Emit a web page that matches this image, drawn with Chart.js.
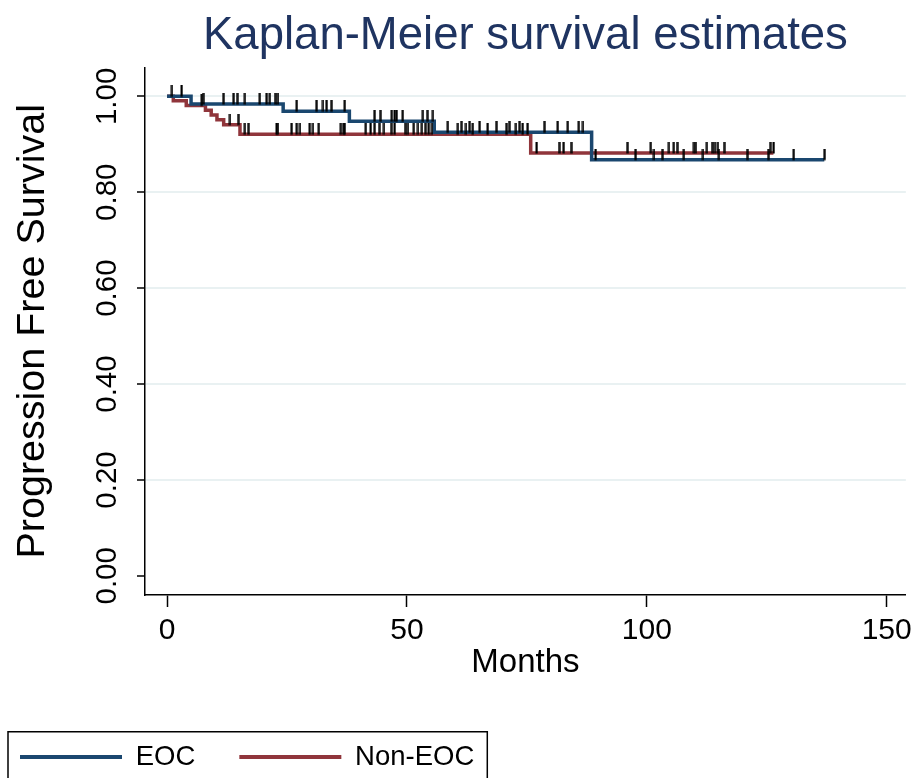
<!DOCTYPE html>
<html>
<head>
<meta charset="utf-8">
<title>Kaplan-Meier survival estimates</title>
<script src="https://cdn.jsdelivr.net/npm/chart.js@4.4.1/dist/chart.umd.min.js"></script>
<style>
  html, body { margin: 0; padding: 0; background: #fff; }
  #wrap { width: 918px; height: 778px; }
</style>
</head>
<body>
<div id="wrap"><canvas id="km"></canvas></div>
<script>
const xTicks = [0, 50, 100, 150];
const yTicks = [0, 0.2, 0.4, 0.6, 0.8, 1.0];

// EOC: instantes dos eventos e sobrevida depois de cada um
const eocTempo = [0, 5.0, 24.2, 38.0, 55.7, 88.5, 137.0];
const eocSobrev = [1.000, 0.984, 0.969, 0.948, 0.925, 0.868, 0.868];
const eocCensura = [1.0, 3.0, 7.5, 11.7, 13.8, 14.6, 16.2, 19.3, 20.7, 21.4, 22.5, 23.1,
  27.0, 31.1, 32.5, 33.2, 34.2, 37.0,
  43.2, 44.4, 46.8, 47.4, 47.8, 49.1, 53.3, 54.2, 55.4,
  58.5, 61.3, 63.0, 65.1, 68.6, 71.3, 73.4, 78.6, 81.4, 83.5, 85.8, 86.7,
  89.3, 97.6, 101.5, 103.2, 107.7, 111.7, 115.0, 120.9, 125.3, 130.6, 137.0];

// Non-EOC
const nonTempo = [0, 1.3, 4.0, 8.0, 9.2, 10.4, 11.8, 15.2, 75.8, 126.4];
const nonSobrev = [1.000, 0.991, 0.981, 0.971, 0.961, 0.951, 0.941, 0.921, 0.882, 0.882];
const nonCensura = [7.2, 13.1, 14.8,
  16.2, 16.9, 22.8, 23.1, 25.9, 27.0, 27.7, 29.7, 30.4, 31.6, 36.2, 36.7, 37.0,
  41.4, 42.4, 43.2, 44.2, 45.2, 46.7, 47.4, 49.6, 50.2, 51.4, 52.3, 53.1, 53.8, 54.5, 55.2,
  60.6, 62.3, 63.7, 66.8, 70.7, 72.7, 74.1, 75.1,
  77.0, 81.7, 82.6, 84.2, 95.9, 100.8, 104.6, 105.6, 106.3, 109.8, 110.2,
  112.5, 113.6, 114.2, 114.8, 116.1, 125.7, 126.4];

const AZUL = '#1a476f', VERMELHO = '#90353b';
const FONTE = "'Liberation Sans', Arial, sans-serif";

// nivel da curva num instante t
function nivel(tempos, sobrev, t) {
  let s = sobrev[0];
  for (let i = 0; i < tempos.length; i++) if (tempos[i] <= t) s = sobrev[i];
  return s;
}
const pontos = (tempos, sobrev) => tempos.map((t, i) => ({ x: t, y: sobrev[i] }));
const marcas = (cens, tempos, sobrev) => cens.map(t => ({ x: t, y: nivel(tempos, sobrev, t) }));

// traço de censura: sobe a partir da curva
const traco = document.createElement('canvas');
traco.width = 3; traco.height = 22;
const tc = traco.getContext('2d');
tc.fillStyle = '#000';
tc.fillRect(0.5, 0, 2.2, 11.5);

const caixaLegenda = {
  id: 'caixaLegenda',
  afterDraw(chart) {
    const lg = chart.legend;
    if (!lg || !lg.legendHitBoxes.length) return;
    const hb = lg.legendHitBoxes;
    const esq = hb[0].left - 12;
    const dir = hb[hb.length - 1].left + hb[hb.length - 1].width + 13;
    const topo = hb[0].top - 11.5;
    const ctx = chart.ctx;
    ctx.save();
    ctx.strokeStyle = '#000';
    ctx.lineWidth = 1.5;
    ctx.strokeRect(esq, topo, dir - esq, 80);
    ctx.restore();
  }
};

new Chart(document.getElementById('km'), {
  type: 'scatter',
  plugins: [caixaLegenda],
  data: {
    datasets: [
      { type: 'line', label: 'EOC', data: pontos(eocTempo, eocSobrev), stepped: true,
        borderColor: AZUL, backgroundColor: AZUL, borderWidth: 3.5, pointRadius: 0, fill: false, order: 2 },
      { type: 'line', label: 'Non-EOC', data: pontos(nonTempo, nonSobrev), stepped: true,
        borderColor: VERMELHO, backgroundColor: VERMELHO, borderWidth: 3.5, pointRadius: 0, fill: false, order: 3 },
      { label: 'cens-eoc', data: marcas(eocCensura, eocTempo, eocSobrev), pointStyle: traco, pointRadius: 1, order: 0 },
      { label: 'cens-non', data: marcas(nonCensura, nonTempo, nonSobrev), pointStyle: traco, pointRadius: 1, order: 1 }
    ]
  },
  options: {
    responsive: true, maintainAspectRatio: false, animation: false,
    layout: { padding: { left: -24, right: 10, top: 0, bottom: -2.75 } },
    plugins: {
      tooltip: { enabled: false },
      title: {
        display: true, text: 'Kaplan-Meier survival estimates', fullSize: false,
        color: '#1f3461', font: { family: FONTE, size: 45.5, weight: 'normal' },
        padding: { top: 9.5, bottom: 3.5 }
      },
      legend: {
        position: 'bottom', align: 'start',
        labels: {
          color: '#000', font: { family: FONTE, size: 27.5 },
          boxWidth: 102, boxHeight: 4, padding: 44,
          generateLabels: chart => Chart.defaults.plugins.legend.labels.generateLabels(chart)
            .filter(l => l.datasetIndex < 2)
            .map(l => Object.assign(l, { lineWidth: 0, fillStyle: l.strokeStyle }))
        }
      }
    },
    scales: {
      x: {
        type: 'linear', min: -4.6, max: 154,
        afterBuildTicks: s => { s.ticks = xTicks.map(v => ({ value: v })); },
        afterFit: s => { s.height = 104.25; },
        grid: { drawOnChartArea: false, drawTicks: true, tickLength: 12, tickColor: '#000', tickWidth: 1.5 },
        border: { display: true, color: '#000', width: 1.5 },
        ticks: { color: '#000', font: { family: FONTE, size: 30 }, padding: 6, maxRotation: 0 },
        title: { display: true, text: 'Months', color: '#000', font: { family: FONTE, size: 33 }, padding: { top: 0, bottom: 16.5 } }
      },
      y: {
        type: 'linear', min: -0.04, max: 1.06,
        afterBuildTicks: s => { s.ticks = yTicks.map(v => ({ value: v })); },
        afterFit: s => { s.width = 169; },
        grid: {
          color: c => (c.tick && c.tick.value === 0) ? 'rgba(0,0,0,0)' : '#e9f1f2',
          lineWidth: 2, tickLength: 8, tickColor: '#000', tickWidth: 1.5
        },
        border: { display: true, color: '#000', width: 1.5 },
        ticks: {
          color: '#000', font: { family: FONTE, size: 29.5 }, padding: 0,
          minRotation: 90, maxRotation: 90, crossAlign: 'center',
          callback: v => Number(v).toFixed(2)
        },
        title: { display: true, text: 'Progression Free Survival', color: '#000', font: { family: FONTE, size: 39.5 }, padding: { top: 33, bottom: 0 } }
      }
    }
  }
});
</script>
</body>
</html>
